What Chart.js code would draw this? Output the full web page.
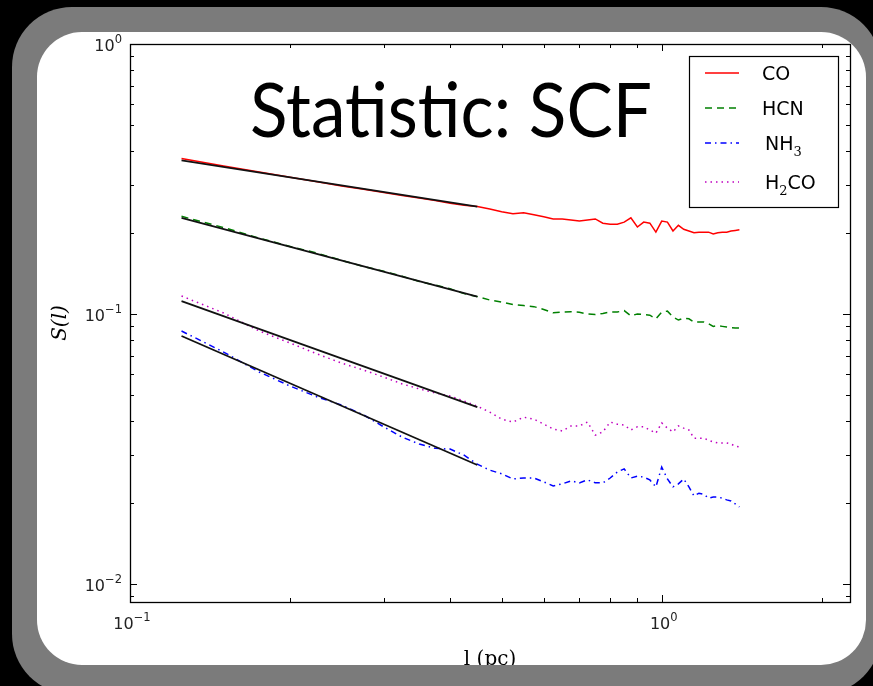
<!DOCTYPE html>
<html>
<head>
<meta charset="utf-8">
<script src="https://cdn.jsdelivr.net/npm/chart.js@4.4.1/dist/chart.umd.min.js"></script>
<style>
  html, body { margin: 0; padding: 0; background: #000; width: 873px; height: 686px; overflow: hidden; }
  .frame { position: absolute; left: 12px; top: 7px; width: 869px; height: 687px; background: #7b7b7b; border-radius: 60px; }
  .sheet { position: absolute; left: 37px; top: 32px; width: 829px; height: 633px; background: #fff; border-radius: 45px; overflow: hidden; }
  #scf { position: absolute; left: -37px; top: -32px; }
</style>
</head>
<body>
<div class="frame"></div>
<div class="sheet"><canvas id="scf" width="873" height="686"></canvas></div>
<script>
// lag (pc)
const lags = [0.125, 0.15, 0.175, 0.2, 0.225, 0.25, 0.275, 0.3, 0.325, 0.35, 0.375, 0.4, 0.425, 0.45,
  0.475, 0.5, 0.525, 0.55, 0.575, 0.6, 0.625, 0.65, 0.675, 0.7, 0.725, 0.75, 0.775, 0.8, 0.825, 0.85,
  0.875, 0.9, 0.925, 0.95, 0.975, 1.0, 1.025, 1.05, 1.075, 1.1, 1.125, 1.15, 1.175, 1.2, 1.225, 1.25,
  1.275, 1.3, 1.325, 1.35, 1.375, 1.4];

// S(l) per tracer
const coValues = [0.377, 0.353, 0.336, 0.321, 0.309, 0.298, 0.290, 0.282, 0.275, 0.269, 0.263, 0.257, 0.253, 0.250,
  0.245, 0.239, 0.235, 0.237, 0.233, 0.229, 0.225, 0.225, 0.223, 0.221, 0.223, 0.225, 0.217, 0.215, 0.215, 0.219,
  0.227, 0.210, 0.219, 0.217, 0.201, 0.221, 0.219, 0.203, 0.213, 0.206, 0.203, 0.200, 0.201, 0.201, 0.201, 0.198,
  0.200, 0.201, 0.201, 0.203, 0.204, 0.205];
const hcnValues = [0.230, 0.209, 0.191, 0.178, 0.168, 0.158, 0.150, 0.144, 0.138, 0.132, 0.128, 0.124, 0.119, 0.116,
  0.1127, 0.1108, 0.1085, 0.1075, 0.1065, 0.1040, 0.1010, 0.1017, 0.1020, 0.1015, 0.1000, 0.0995, 0.1005, 0.1017,
  0.1017, 0.1030, 0.0985, 0.1000, 0.0995, 0.0990, 0.0960, 0.1017, 0.1025, 0.0975, 0.0950, 0.0966, 0.0960, 0.0934,
  0.0935, 0.0934, 0.0920, 0.0900, 0.0905, 0.0900, 0.0895, 0.0890, 0.0888, 0.0887];
const nh3Values = [0.0865, 0.0723, 0.0610, 0.0541, 0.0493, 0.0460, 0.0423, 0.0382, 0.0350, 0.0330, 0.0318, 0.0316, 0.0300, 0.0278,
  0.0264, 0.0256, 0.0245, 0.0247, 0.0247, 0.0239, 0.0231, 0.0235, 0.0241, 0.0237, 0.0243, 0.0237, 0.0237, 0.0247,
  0.0260, 0.0267, 0.0247, 0.0251, 0.0249, 0.0243, 0.0229, 0.0271, 0.0245, 0.0229, 0.0235, 0.0245, 0.0229, 0.0212,
  0.0217, 0.0215, 0.0208, 0.0210, 0.0210, 0.0208, 0.0205, 0.0203, 0.0198, 0.0193];
const h2coValues = [0.1166, 0.1009, 0.0865, 0.0781, 0.0711, 0.0658, 0.0620, 0.0584, 0.0551, 0.0528, 0.0510, 0.0497, 0.0476, 0.0456,
  0.0433, 0.0408, 0.0398, 0.0415, 0.0408, 0.0391, 0.0375, 0.0369, 0.0385, 0.0385, 0.0398, 0.0356, 0.0366, 0.0398,
  0.0391, 0.0388, 0.0372, 0.0382, 0.0382, 0.0372, 0.0362, 0.0395, 0.0378, 0.0366, 0.0385, 0.0378, 0.0372, 0.0347,
  0.0347, 0.0347, 0.0341, 0.0336, 0.0333, 0.0333, 0.0333, 0.0330, 0.0324, 0.0322];

// power-law fits over the small-lag range (end points)
const fitLags = [0.125, 0.45];
const coFit = [0.371, 0.250];
const hcnFit = [0.227, 0.116];
const nh3Fit = [0.0829, 0.0276];
const h2coFit = [0.1117, 0.0452];

// _{..} subscript, ^{..} superscript
const legendLabels = ['CO', 'HCN', 'NH_{3}', 'H_{2}CO'];
const xMajorTicks = [0.1, 1];
const xTickLabels = ['10^{\u22121}', '10^{0}'];
const yMajorTicks = [0.01, 0.1, 1];
const yTickLabels = ['10^{\u22122}', '10^{\u22121}', '10^{0}'];
const minorSteps = [2, 3, 4, 5, 6, 7, 8, 9];
const titleText = 'Statistic: SCF';

const pts = ys => lags.map((x, i) => ({ x, y: ys[i] }));
const fitPts = ys => fitLags.map((x, i) => ({ x, y: ys[i] }));

function minorValues(majors, min, max) {
  const out = [];
  [majors[0] / 10, ...majors].forEach(d => minorSteps.forEach(k => {
    const v = k * d;
    if (v > min && v < max) out.push(v);
  }));
  return out;
}

// split 'NH_{3}' into runs of normal / sub / sup text
function runs(label) {
  const out = [];
  const re = /([_^])\{([^}]*)\}/g;
  let last = 0, m;
  while ((m = re.exec(label))) {
    if (m.index > last) out.push({ t: label.slice(last, m.index), k: '' });
    out.push({ t: m[2], k: m[1] });
    last = re.lastIndex;
  }
  if (last < label.length) out.push({ t: label.slice(last), k: '' });
  return out;
}

// draws rich text; align 'left' | 'right' | 'center' relative to x, y = baseline
function drawRich(ctx, label, x, y, align, base, small, shift) {
  const parts = runs(label).map(p => {
    ctx.font = p.k ? small : base;
    return { ...p, w: ctx.measureText(p.t).width };
  });
  const total = parts.reduce((s, p) => s + p.w, 0);
  let cx = align === 'right' ? x - total : align === 'center' ? x - total / 2 : x;
  parts.forEach(p => {
    ctx.font = p.k ? small : base;
    const dy = p.k === '^' ? -shift.sup : p.k === '_' ? shift.sub : 0;
    ctx.fillText(p.t, cx, y + dy);
    cx += p.w;
  });
}

// axes box, inward ticks, tick labels, legend and the slide title
const framePlugin = {
  id: 'frame',
  afterDraw(chart) {
    const { ctx, chartArea: a, scales: { x, y } } = chart;
    ctx.save();
    ctx.strokeStyle = '#000';
    ctx.lineWidth = 1;

    const tickX = (vals, len) => vals.forEach(v => {
      const p = Math.round(x.getPixelForValue(v)) + 0.5;
      ctx.beginPath();
      ctx.moveTo(p, a.bottom); ctx.lineTo(p, a.bottom - len);
      ctx.moveTo(p, a.top); ctx.lineTo(p, a.top + len);
      ctx.stroke();
    });
    const tickY = (vals, len) => vals.forEach(v => {
      const p = Math.round(y.getPixelForValue(v)) + 0.5;
      ctx.beginPath();
      ctx.moveTo(a.left, p); ctx.lineTo(a.left + len, p);
      ctx.moveTo(a.right, p); ctx.lineTo(a.right - len, p);
      ctx.stroke();
    });
    tickX(xMajorTicks, 7);
    tickX(minorValues(xMajorTicks, x.min, x.max), 4);
    tickY(yMajorTicks, 7);
    tickY(minorValues(yMajorTicks, y.min, y.max), 4);

    ctx.lineWidth = 1.3;
    ctx.strokeRect(a.left + 0.5, a.top + 0.5, a.right - a.left, a.bottom - a.top);

    // tick labels
    ctx.fillStyle = '#222';
    ctx.textBaseline = 'alphabetic';
    const tf = '16px "DejaVu Sans"', sf = '11.5px "DejaVu Sans"';
    xMajorTicks.forEach((v, i) => {
      drawRich(ctx, xTickLabels[i], x.getPixelForValue(v) + 2, a.bottom + 27, 'center', tf, sf, { sup: 8, sub: 0 });
    });
    yMajorTicks.forEach((v, i) => {
      drawRich(ctx, yTickLabels[i], a.left - 8, y.getPixelForValue(v) + 7, 'right', tf, sf, { sup: 8, sub: 0 });
    });

    // legend
    ctx.fillStyle = '#fff';
    ctx.fillRect(689, 56, 149, 151);
    ctx.strokeStyle = '#000';
    ctx.lineWidth = 1.2;
    ctx.strokeRect(689.5, 56.5, 149, 151);
    const rows = [73, 108, 143, 182];
    legendLabels.forEach((lab, i) => {
      const ds = chart.data.datasets[i];
      ctx.strokeStyle = ds.borderColor;
      ctx.lineWidth = 1.6;
      ctx.setLineDash(ds.borderDash || []);
      ctx.beginPath();
      ctx.moveTo(705, rows[i]); ctx.lineTo(739, rows[i]);
      ctx.stroke();
      ctx.setLineDash([]);
      ctx.fillStyle = '#000';
      const lx = lab.includes('_') ? 765 : 762;
      drawRich(ctx, lab, lx, rows[i] + 7, 'left', '19px "DejaVu Sans"', '13px "DejaVu Serif"', { sup: 0, sub: 6 });
    });

    // big title
    ctx.font = '75px Lato';
    const w = ctx.measureText(titleText).width;
    ctx.translate(250, 137);
    ctx.scale(402 / w, 1);
    ctx.fillStyle = '#000';
    ctx.fillText(titleText, 0, 0);
    ctx.restore();
  }
};

const canvas = document.getElementById('scf');
new Chart(canvas, {
  type: 'line',
  data: {
    datasets: [
      { label: 'CO', data: pts(coValues), borderColor: '#ff0000', order: 1 },
      { label: 'HCN', data: pts(hcnValues), borderColor: '#008000', borderDash: [7, 5], order: 1 },
      { label: 'NH3', data: pts(nh3Values), borderColor: '#0000ff', borderDash: [6, 4, 1.5, 4], order: 1 },
      { label: 'H2CO', data: pts(h2coValues), borderColor: '#bf00bf', borderDash: [1.5, 4], order: 1 },
      { label: 'fit CO', data: fitPts(coFit), borderColor: '#111', borderWidth: 1.8, order: 0 },
      { label: 'fit HCN', data: fitPts(hcnFit), borderColor: '#111', borderWidth: 1.8, order: 0 },
      { label: 'fit NH3', data: fitPts(nh3Fit), borderColor: '#111', borderWidth: 1.8, order: 0 },
      { label: 'fit H2CO', data: fitPts(h2coFit), borderColor: '#111', borderWidth: 1.8, order: 0 }
    ]
  },
  options: {
    responsive: false,
    animation: false,
    devicePixelRatio: 1,
    elements: {
      point: { radius: 0 },
      line: { tension: 0, borderWidth: 1.5, fill: false }
    },
    layout: { padding: { left: 0, right: 23, top: 44, bottom: 0 } },
    plugins: { legend: { display: false }, tooltip: { enabled: false } },
    scales: {
      x: {
        type: 'logarithmic',
        min: 0.1,
        max: 2.26,
        grid: { display: false },
        border: { display: false },
        afterBuildTicks: s => { s.ticks = xMajorTicks.map(v => ({ value: v })); },
        afterFit: s => { s.height = 84; },
        ticks: { display: false },
        title: {
          display: true,
          text: 'l (pc)',
          font: { family: 'DejaVu Serif', size: 20 },
          color: '#000',
          padding: { top: 0, bottom: 14 }
        }
      },
      y: {
        type: 'logarithmic',
        min: 0.00858,
        max: 1,
        grid: { display: false },
        border: { display: false },
        afterBuildTicks: s => { s.ticks = yMajorTicks.map(v => ({ value: v })); },
        afterFit: s => { s.width = 130; },
        ticks: { display: false },
        title: {
          display: true,
          text: 'S(l)',
          font: { family: 'DejaVu Serif', size: 20, style: 'italic' },
          color: '#000',
          padding: { top: 49, bottom: 0 }
        }
      }
    }
  },
  plugins: [framePlugin]
});
</script>
</body>
</html>
